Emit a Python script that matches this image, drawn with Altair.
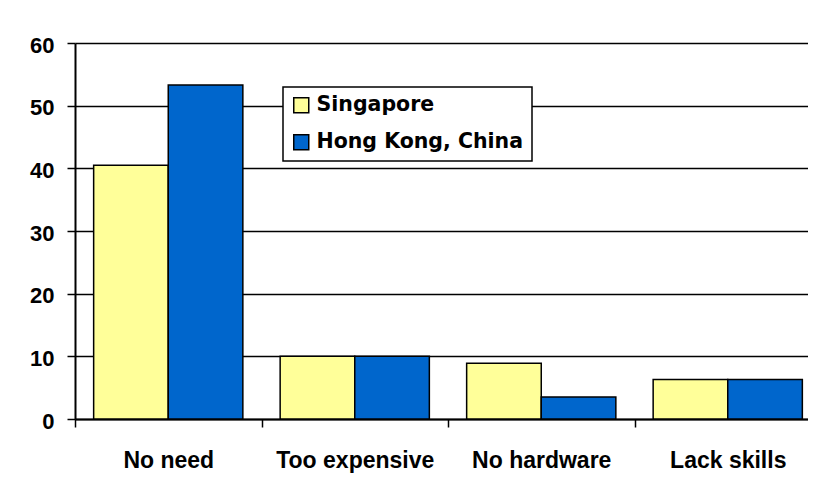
import altair as alt
import pandas as pd

categories = ["No need", "Too expensive", "No hardware", "Lack skills"]
series = ["Singapore", "Hong Kong, China"]
singapore = [40.5, 10.0, 8.9, 6.3]
hong_kong = [53.3, 10.0, 3.5, 6.3]
colors = ["#FFFF99", "#0066CC"]
y_ticks = [0, 10, 20, 30, 40, 50, 60]

rows = []
for c, s, h in zip(categories, singapore, hong_kong):
    rows.append({"category": c, "series": series[0], "value": s})
    rows.append({"category": c, "series": series[1], "value": h})
df = pd.DataFrame(rows)

chart = alt.Chart(df).mark_bar(stroke="black", strokeWidth=1.5, opacity=1).encode(
    x=alt.X(
        "category:N", sort=categories,
        scale=alt.Scale(paddingInner=0, paddingOuter=0, range=[0, 746]),
        axis=alt.Axis(
            title=None, labelAngle=0, tickBand="extent", grid=False,
            labelFont="Liberation Sans", labelFontSize=23, labelFontWeight="bold",
            labelColor="black", labelPadding=22, tickSize=8, tickWidth=1.5,
            tickColor="black", domainColor="black", domainWidth=2,
        ),
    ),
    xOffset=alt.XOffset("series:N", sort=series,
                        scale=alt.Scale(paddingInner=0, paddingOuter=0.25)),
    y=alt.Y(
        "value:Q",
        scale=alt.Scale(domain=[0, 60], nice=False),
        axis=alt.Axis(
            title=None, values=y_ticks, grid=True, gridColor="black",
            gridWidth=1.5, gridOpacity=1,
            labelFont="Liberation Sans", labelFontSize=22, labelFontWeight="bold",
            labelColor="black", labelPadding=13, labelOffset=2,
            tickSize=8, tickWidth=1.5,
            tickColor="black", domainColor="black", domainWidth=2,
        ),
    ),
    color=alt.Color(
        "series:N", sort=series,
        scale=alt.Scale(domain=series, range=colors),
        legend=alt.Legend(
            title=None, orient="none", legendX=208, legendY=44,
            symbolType="square", symbolSize=225, symbolStrokeColor="black",
            symbolStrokeWidth=1.5, symbolOpacity=1,
            labelFont="DejaVu Sans", labelFontSize=20.5, labelFontWeight="bold",
            labelColor="black", labelLimit=400, labelOffset=5,
            strokeColor="black", fillColor="white", padding=8, rowPadding=15,
        ),
    ),
).properties(
    width=733, height=376,
    autosize=alt.AutoSizeParams(type="none"),
    padding={"left": 67, "top": 35, "right": 0, "bottom": 55},
    background="white",
).configure_view(stroke=None, strokeWidth=0).configure_legend(strokeWidth=1.5)

chart.save("out.html", embed_options={"renderer": "svg", "actions": False})
